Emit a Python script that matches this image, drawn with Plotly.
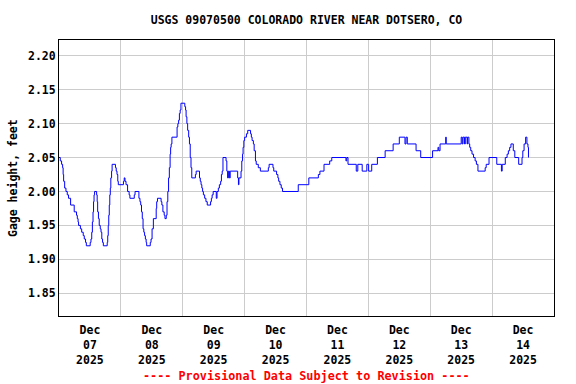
import pandas as pd
import plotly.graph_objects as go

# Hours after 2025-12-07 00:00 at which the gage height changes, and the new value (feet)
hours = [
    0.0, 0.5, 1.0, 1.4, 1.6, 1.8, 2.2, 2.7, 3.2, 3.7, 4.5, 5.9, 6.8, 7.1, 7.4, 7.6,
    8.3, 8.8, 9.4, 9.8, 10.3, 10.6, 12.1, 12.4, 12.7, 12.95, 13.2, 13.4, 13.6, 13.8,
    14.6, 14.8, 15.0, 15.3, 15.6, 16.0, 16.3, 16.6, 16.9, 17.2, 18.7, 18.9, 19.1, 19.3,
    19.5, 19.7, 19.9, 20.1, 20.4, 20.6, 21.9, 22.2, 22.5, 22.8, 23.0, 25.0, 25.3, 25.6,
    26.0, 26.6, 27.2, 27.5, 29.2, 29.5, 31.0, 31.4, 31.7, 32.0, 32.3, 32.6, 32.9, 33.2,
    33.5, 33.8, 34.0,
    35.4, 35.7, 36.1, 36.6, 37.7, 37.9, 38.2, 39.6, 39.9, 40.3, 40.8, 41.1, 41.6, 41.9,
    42.2, 42.5, 42.8, 43.1, 43.3, 43.5, 43.8, 45.8, 46.1, 46.4, 46.7, 47.0, 47.3, 48.8,
    49.1, 49.3, 49.6, 49.9, 50.3, 50.6, 50.9, 51.2, 51.5, 52.9, 53.2, 54.5, 54.8, 55.1,
    55.4, 55.7, 56.0, 56.5, 57.0, 57.5, 58.8, 59.1, 59.4, 59.8, 61.0, 61.3, 61.8, 62.2,
    62.7, 63.0, 63.3, 63.6, 64.8, 65.1, 65.4, 65.7, 66.1, 66.4,
    69.3, 69.6, 69.8, 70.6, 70.9, 71.2, 71.4, 71.7, 72.0, 72.7, 73.2, 74.3, 74.6, 74.9,
    75.4, 75.7, 76.2, 76.5, 77.3, 78.1, 81.2, 81.5, 83.0, 83.3, 84.4, 84.9, 85.2, 85.7,
    86.2, 86.7, 92.8, 96.9, 100.6, 101.2, 102.8, 105.0, 105.8, 111.3, 111.6, 112.1,
    115.3, 115.9, 117.6, 119.4, 120.1, 121.3, 123.5, 126.5, 129.6, 132.0, 134.2, 134.6,
    135.1, 138.5, 140.3, 144.9, 147.0, 147.3, 147.8, 150.0, 150.2, 156.0, 156.4, 156.7,
    157.3, 157.6, 158.3, 158.5, 159.0, 159.3, 159.7, 160.2, 160.8, 161.4, 161.9, 162.5,
    165.3, 165.7, 166.8, 169.8, 171.6, 171.9, 173.1, 173.8, 174.3, 174.8, 175.3, 176.2,
    176.8, 178.3, 179.6, 179.9, 180.4, 181.0, 181.5, 181.9, 182.1,
]
gage_ft = [
    2.05, 2.045, 2.04, 2.035, 2.025, 2.015, 2.005, 2.00, 1.995, 1.99, 1.98, 1.97, 1.965, 1.96, 1.955, 1.95,
    1.945, 1.94, 1.935, 1.93, 1.925, 1.92, 1.925, 1.93, 1.94, 1.955, 1.97, 1.985, 1.995, 2.00,
    1.995, 1.985, 1.97, 1.96, 1.95, 1.945, 1.94, 1.93, 1.925, 1.92, 1.925, 1.935, 1.95, 1.965,
    1.98, 1.995, 2.005, 2.02, 2.03, 2.04, 2.035, 2.03, 2.025, 2.015, 2.01, 2.015, 2.02, 2.015,
    2.01, 2.00, 1.995, 1.99, 1.995, 2.00, 1.99, 1.985, 1.98, 1.97, 1.96, 1.945, 1.94, 1.935,
    1.93, 1.925, 1.92,
    1.925, 1.93, 1.945, 1.96, 1.975, 1.985, 1.99, 1.985, 1.98, 1.97, 1.965, 1.96, 1.965, 1.985,
    2.00, 2.02, 2.035, 2.055, 2.065, 2.07, 2.08, 2.095, 2.10, 2.105, 2.115, 2.12, 2.13, 2.125,
    2.12, 2.11, 2.10, 2.09, 2.08, 2.07, 2.05, 2.035, 2.02, 2.025, 2.03, 2.02, 2.015, 2.01,
    2.005, 2.00, 1.995, 1.99, 1.985, 1.98, 1.985, 1.99, 1.995, 2.00, 1.99, 2.00, 2.005, 2.01,
    2.015, 2.025, 2.03, 2.05, 2.045, 2.03, 2.02, 2.03, 2.02, 2.03,
    2.02, 2.01, 2.02, 2.03, 2.045, 2.055, 2.065, 2.075, 2.08, 2.085, 2.09, 2.085, 2.08, 2.075,
    2.07, 2.06, 2.045, 2.04, 2.035, 2.03, 2.035, 2.04, 2.035, 2.03, 2.025, 2.02, 2.015, 2.01,
    2.005, 2.00, 2.01, 2.02, 2.025, 2.03, 2.04, 2.045, 2.05, 2.045, 2.05, 2.04,
    2.03, 2.04, 2.03, 2.04, 2.03, 2.04, 2.05, 2.06, 2.07, 2.08, 2.07, 2.08,
    2.07, 2.06, 2.05, 2.06, 2.065, 2.06, 2.07, 2.08, 2.07, 2.08, 2.07, 2.08,
    2.07, 2.08, 2.07, 2.08, 2.07, 2.065, 2.06, 2.055, 2.05, 2.045, 2.04, 2.03,
    2.035, 2.04, 2.05, 2.04, 2.03, 2.04, 2.05, 2.055, 2.06, 2.065, 2.07, 2.06,
    2.05, 2.04, 2.05, 2.06, 2.07, 2.08, 2.07, 2.065, 2.05,
]

start = pd.Timestamp("2025-12-07 00:00")
end = pd.Timestamp("2025-12-15 00:00")
day_dates = ["2025-12-07", "2025-12-08", "2025-12-09", "2025-12-10",
             "2025-12-11", "2025-12-12", "2025-12-13", "2025-12-14"]
tick_labels = ["Dec<br>07<br>2025", "Dec<br>08<br>2025", "Dec<br>09<br>2025", "Dec<br>10<br>2025",
               "Dec<br>11<br>2025", "Dec<br>12<br>2025", "Dec<br>13<br>2025", "Dec<br>14<br>2025"]
y_ticks = [1.85, 1.90, 1.95, 2.00, 2.05, 2.10, 2.15, 2.20]
y_tick_labels = ["1.85", "1.90", "1.95", "2.00", "2.05", "2.10", "2.15", "2.20"]

times = [start + pd.Timedelta(hours=h) for h in hours]
noon_ticks = [pd.Timestamp(d) + pd.Timedelta(hours=12) for d in day_dates]
midnight_grid = [pd.Timestamp(d) for d in day_dates[1:]]

FONT = "DejaVu Sans Mono"

fig = go.Figure()
fig.add_trace(go.Scatter(
    x=times, y=gage_ft, mode="lines",
    line=dict(color="#0000ff", width=1, shape="hv"),
    showlegend=False, hoverinfo="skip",
))

fig.update_layout(
    width=576, height=384,
    margin=dict(l=59, r=22, t=40, b=68),
    paper_bgcolor="white", plot_bgcolor="white",
    font=dict(family=FONT, size=11.5, color="black"),
    title=dict(
        text="<b>USGS 09070500 COLORADO RIVER NEAR DOTSERO, CO</b>",
        x=0.5, xref="paper", xanchor="center",
        y=1 - 20 / 384, yref="container", yanchor="middle",
        font=dict(family=FONT, size=11.5, color="black"),
    ),
)

fig.update_xaxes(
    range=[start, end],
    tickmode="array", tickvals=noon_ticks, ticktext=tick_labels,
    tickfont=dict(family=FONT, size=11.5, weight="bold"),
    ticklabelstandoff=3,
    showgrid=False, ticks="", zeroline=False,
    showline=True, linecolor="black", linewidth=1, mirror=True,
    minor=dict(tickmode="array", tickvals=midnight_grid, showgrid=True,
               gridcolor="#cccccc", gridwidth=1, ticks=""),
)
fig.update_yaxes(
    range=[1.8166, 2.2231],
    tickmode="array", tickvals=y_ticks, ticktext=y_tick_labels,
    tickfont=dict(family=FONT, size=11.5, weight="bold"),
    showgrid=True, gridcolor="#cccccc", gridwidth=1, ticks="", zeroline=False,
    showline=True, linecolor="black", linewidth=1, mirror=True,
)

fig.add_annotation(
    text="<b>Gage height, feet</b>", textangle=-90,
    xref="paper", yref="paper", x=(13 - 59) / 495, y=0.5,
    xanchor="center", yanchor="middle", showarrow=False,
    font=dict(family=FONT, size=11.5, color="black"),
)
fig.add_annotation(
    text="<b>---- Provisional Data Subject to Revision ----</b>",
    xref="paper", yref="paper", x=0.5, y=(316 - 376) / 276,
    xanchor="center", yanchor="middle", showarrow=False,
    font=dict(family=FONT, size=11.8, color="#ff0000"),
)

fig.write_html(
    "out.html",
    config={"displayModeBar": False},
    post_script="document.body.style.margin='0px';document.body.style.overflow='hidden';",
)
